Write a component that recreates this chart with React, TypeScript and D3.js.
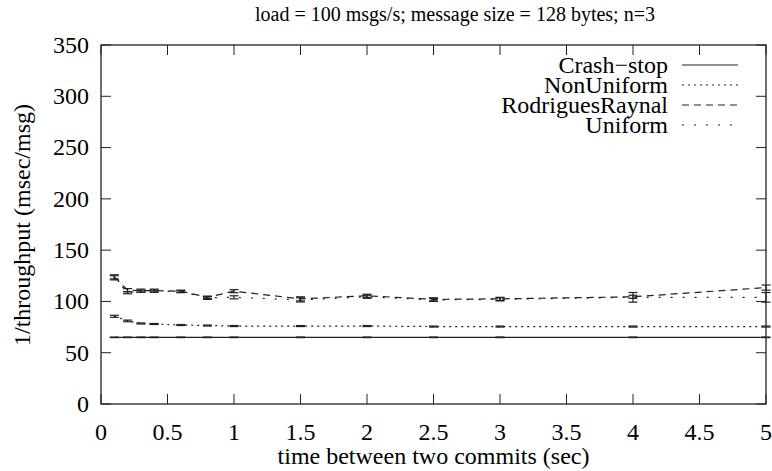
import React from "react";
import * as d3 from "d3";

const width = 772;
const height = 471;
const margin = { top: 45, right: 6, bottom: 67, left: 101 };

// x values (sec between commits)
const commitTimes = [0.1, 0.2, 0.3, 0.4, 0.6, 0.8, 1, 1.5, 2, 2.5, 3, 4, 5];

// 1/throughput (msec/msg) per series, with half error bars
const crashStop = [65, 65, 65, 65, 65, 65, 65, 65, 65, 65, 65, 65, 65];
const crashStopErr = [0.3, 0.3, 0.3, 0.3, 0.3, 0.3, 0.3, 0.3, 0.3, 0.3, 0.3, 0.3, 0.3];
const nonUniform = [85.5, 81, 78.5, 78, 77, 76.5, 76, 76, 76, 75.5, 75.5, 75.5, 75.5];
const nonUniformErr = [1, 0.8, 0.5, 0.5, 0.5, 0.5, 0.5, 0.5, 0.5, 0.5, 0.5, 0.5, 0.5];
const rodriguesRaynal = [124, 111, 110.5, 110.5, 110, 104, 110, 102.5, 105.5, 102, 102.5, 104.5, 113.5];
const rodriguesRaynalErr = [2, 1.5, 1.5, 1.5, 1, 1, 1.5, 2, 1.5, 1.5, 1.5, 1.5, 2.5];
const uniform = [123, 108.5, 110, 110, 109.5, 103.5, 104, 101.5, 104.5, 101.5, 102, 104, 104];
const uniformErr = [2, 1, 1, 1, 1, 1.5, 1.5, 2, 1.5, 1.5, 1.5, 4.7, 4.7];

const xTicks = [0, 0.5, 1, 1.5, 2, 2.5, 3, 3.5, 4, 4.5, 5];
const yTicks = [0, 50, 100, 150, 200, 250, 300, 350];

const series = [
  { name: "Crash\u2212stop", values: crashStop, err: crashStopErr, dash: "none" },
  { name: "NonUniform", values: nonUniform, err: nonUniformErr, dash: "2,4" },
  { name: "RodriguesRaynal", values: rodriguesRaynal, err: rodriguesRaynalErr, dash: "7,5" },
  { name: "Uniform", values: uniform, err: uniformErr, dash: "2,10" },
];

const font = "Liberation Serif, DejaVu Serif, Times New Roman, serif";
const ink = "#222";

const App = () => {
  const innerWidth = width - margin.left - margin.right;
  const innerHeight = height - margin.top - margin.bottom;

  const xScale = d3.scaleLinear().domain([0, 5]).range([0, innerWidth]);
  const yScale = d3.scaleLinear().domain([0, 350]).range([innerHeight, 0]);

  const line = d3
    .line<number>()
    .x((_, i) => xScale(commitTimes[i]))
    .y((d) => yScale(d));

  const tickLen = 10;
  const cap = 4.5;
  const txt = { fontFamily: font };

  return (
    <svg
      width={width}
      height={height}
      style={{ position: "absolute", left: 0, top: 0, background: "white" }}
    >
      <rect width={width} height={height} fill="white" />
      <text x={455} y={21} fontSize={20} textAnchor="middle" fill="#000" style={txt}>
        load = 100 msgs/s; message size = 128 bytes; n=3
      </text>

      <g transform={`translate(${margin.left}, ${margin.top})`}>
        {/* data */}
        {series.map((s) => (
          <g key={s.name}>
            <path
              d={line(s.values) || ""}
              fill="none"
              stroke={ink}
              strokeWidth={1.2}
              strokeDasharray={s.dash}
            />
            {s.values.map((v, i) => {
              const x = xScale(commitTimes[i]);
              const lo = yScale(v - s.err[i]);
              const hi = yScale(v + s.err[i]);
              return (
                <g key={i} stroke={ink} strokeWidth={1.2}>
                  <line x1={x} x2={x} y1={lo} y2={hi} />
                  <line x1={x - cap} x2={x + cap} y1={lo} y2={lo} />
                  <line x1={x - cap} x2={x + cap} y1={hi} y2={hi} />
                </g>
              );
            })}
          </g>
        ))}

        {/* y ticks */}
        {yTicks.map((t) => (
          <g key={t}>
            <line x1={0} x2={tickLen} y1={yScale(t)} y2={yScale(t)} stroke={ink} />
            <line x1={innerWidth} x2={innerWidth - tickLen} y1={yScale(t)} y2={yScale(t)} stroke={ink} />
            <text x={-12} y={yScale(t)} dy="0.33em" fontSize={24} textAnchor="end" fill="#000" style={txt}>
              {t}
            </text>
          </g>
        ))}

        {/* x ticks */}
        {xTicks.map((t) => (
          <g key={t}>
            <line x1={xScale(t)} x2={xScale(t)} y1={innerHeight} y2={innerHeight - tickLen} stroke={ink} />
            <line x1={xScale(t)} x2={xScale(t)} y1={0} y2={tickLen} stroke={ink} />
            <text x={xScale(t)} y={innerHeight + 36} fontSize={24} textAnchor="middle" fill="#000" style={txt}>
              {t}
            </text>
          </g>
        ))}

        <rect x={0} y={0} width={innerWidth} height={innerHeight} fill="none" stroke={ink} strokeWidth={1.3} />

        {/* legend */}
        {series.map((s, i) => (
          <g key={s.name} transform={`translate(0, ${20 + i * 20})`}>
            <text x={567} y={0} dy="0.33em" fontSize={24} textAnchor="end" fill="#000" style={txt}>
              {s.name}
            </text>
            <line x1={581} x2={637} y1={0} y2={0} stroke={ink} strokeWidth={1.2} strokeDasharray={s.dash} />
          </g>
        ))}

        <text x={innerWidth / 2} y={innerHeight + 60} fontSize={24} textAnchor="middle" fill="#000" style={txt}>
          time between two commits (sec)
        </text>
      </g>

      <text
        transform={`translate(30, ${margin.top + 180}) rotate(-90)`}
        fontSize={24}
        textAnchor="middle"
        fill="#000"
        style={txt}
      >
        1/throughput (msec/msg)
      </text>
    </svg>
  );
};

export default App;
